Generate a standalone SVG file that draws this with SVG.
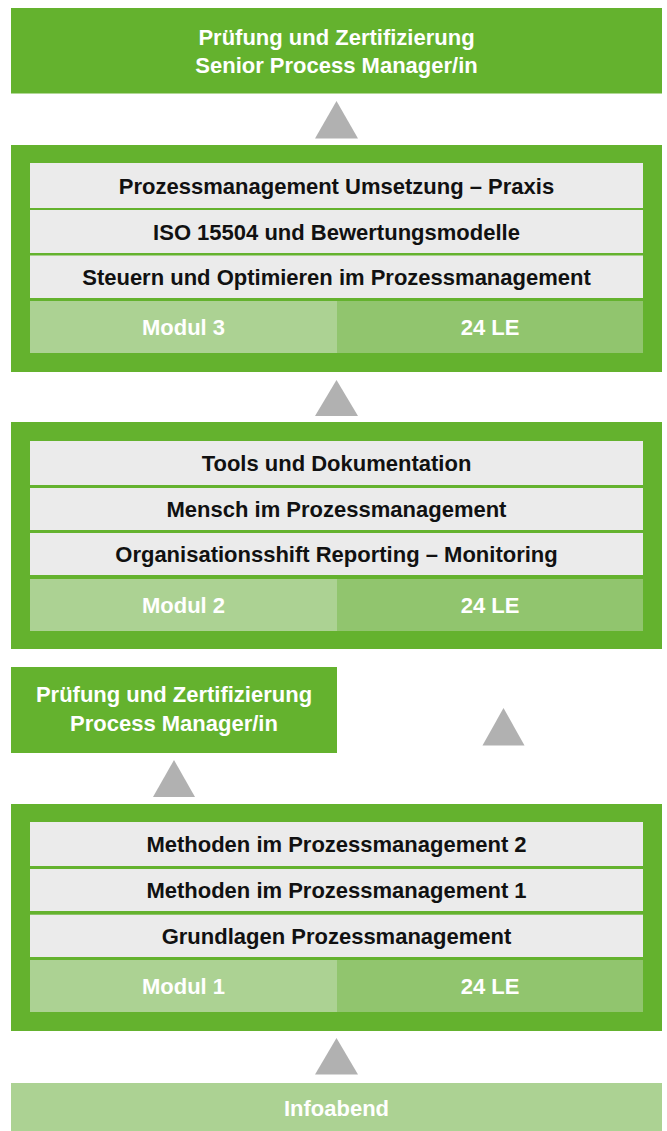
<svg xmlns="http://www.w3.org/2000/svg" width="667" height="1131" viewBox="0 0 667 1131">
<style>
.g{fill:#64b22e}
.row{fill:#ebebeb}
.l1{fill:#acd293}
.l2{fill:#91c56e}
.tri{fill:#b1b1b1}
text{font-family:"Liberation Sans",Arial,sans-serif;font-weight:bold;font-size:22px;text-anchor:middle}
.w{fill:#ffffff}
.k{fill:#111111}
</style>
<rect width="667" height="1131" fill="#ffffff"/>
<g id="connectors">
<polygon class="tri" points="336.5,101 315,138.5 358,138.5"/>
<polygon class="tri" points="336.5,380 315,416 358,416"/>
<polygon class="tri" points="503.5,708 482.5,745.5 524.5,745.5"/>
<polygon class="tri" points="174,760 153,797 195,797"/>
<polygon class="tri" points="336.5,1038 315,1074.5 358,1074.5"/>
</g>
<g id="senior-cert">
<rect class="g" x="11" y="8" width="651" height="85.5"/>
<text class="w" x="336.5" y="44.5">Prüfung und Zertifizierung</text>
<text class="w" x="336.5" y="73">Senior Process Manager/in</text>
</g>
<g id="modul3">
<rect class="g" x="11" y="145" width="651" height="227"/>
<rect class="row" x="30" y="163" width="613" height="45"/>
<rect class="row" x="30" y="210" width="613" height="43"/>
<rect class="row" x="30" y="255.5" width="613" height="42.5"/>
<rect class="l1" x="30" y="301" width="307" height="52"/>
<rect class="l2" x="337" y="301" width="306" height="52"/>
<text class="k" x="336.5" y="193.5">Prozessmanagement Umsetzung – Praxis</text>
<text class="k" x="336.5" y="239.5">ISO 15504 und Bewertungsmodelle</text>
<text class="k" x="336.5" y="284.5">Steuern und Optimieren im Prozessmanagement</text>
<text class="w" x="183.5" y="335">Modul 3</text>
<text class="w" x="490" y="335">24 LE</text>
</g>
<g id="modul2">
<rect class="g" x="11" y="422" width="651" height="227"/>
<rect class="row" x="30" y="441" width="613" height="44"/>
<rect class="row" x="30" y="488" width="613" height="42"/>
<rect class="row" x="30" y="533" width="613" height="42"/>
<rect class="l1" x="30" y="579" width="307" height="52"/>
<rect class="l2" x="337" y="579" width="306" height="52"/>
<text class="k" x="336.5" y="471">Tools und Dokumentation</text>
<text class="k" x="336.5" y="517">Mensch im Prozessmanagement</text>
<text class="k" x="336.5" y="562">Organisationsshift Reporting – Monitoring</text>
<text class="w" x="183.5" y="613">Modul 2</text>
<text class="w" x="490" y="613">24 LE</text>
</g>
<g id="pm-cert">
<rect class="g" x="11" y="667" width="326" height="86"/>
<text class="w" x="174" y="702">Prüfung und Zertifizierung</text>
<text class="w" x="174" y="731">Process Manager/in</text>
</g>
<g id="modul1">
<rect class="g" x="11" y="804" width="651" height="227"/>
<rect class="row" x="30" y="822" width="613" height="44"/>
<rect class="row" x="30" y="869" width="613" height="42"/>
<rect class="row" x="30" y="914.7" width="613" height="42.3"/>
<rect class="l1" x="30" y="960" width="307" height="52"/>
<rect class="l2" x="337" y="960" width="306" height="52"/>
<text class="k" x="336.5" y="852">Methoden im Prozessmanagement 2</text>
<text class="k" x="336.5" y="898">Methoden im Prozessmanagement 1</text>
<text class="k" x="336.5" y="944">Grundlagen Prozessmanagement</text>
<text class="w" x="183.5" y="994">Modul 1</text>
<text class="w" x="490" y="994">24 LE</text>
</g>
<g id="infoabend">
<rect class="l1" x="11" y="1083" width="651" height="48"/>
<text class="w" x="336.5" y="1116">Infoabend</text>
</g>
</svg>
